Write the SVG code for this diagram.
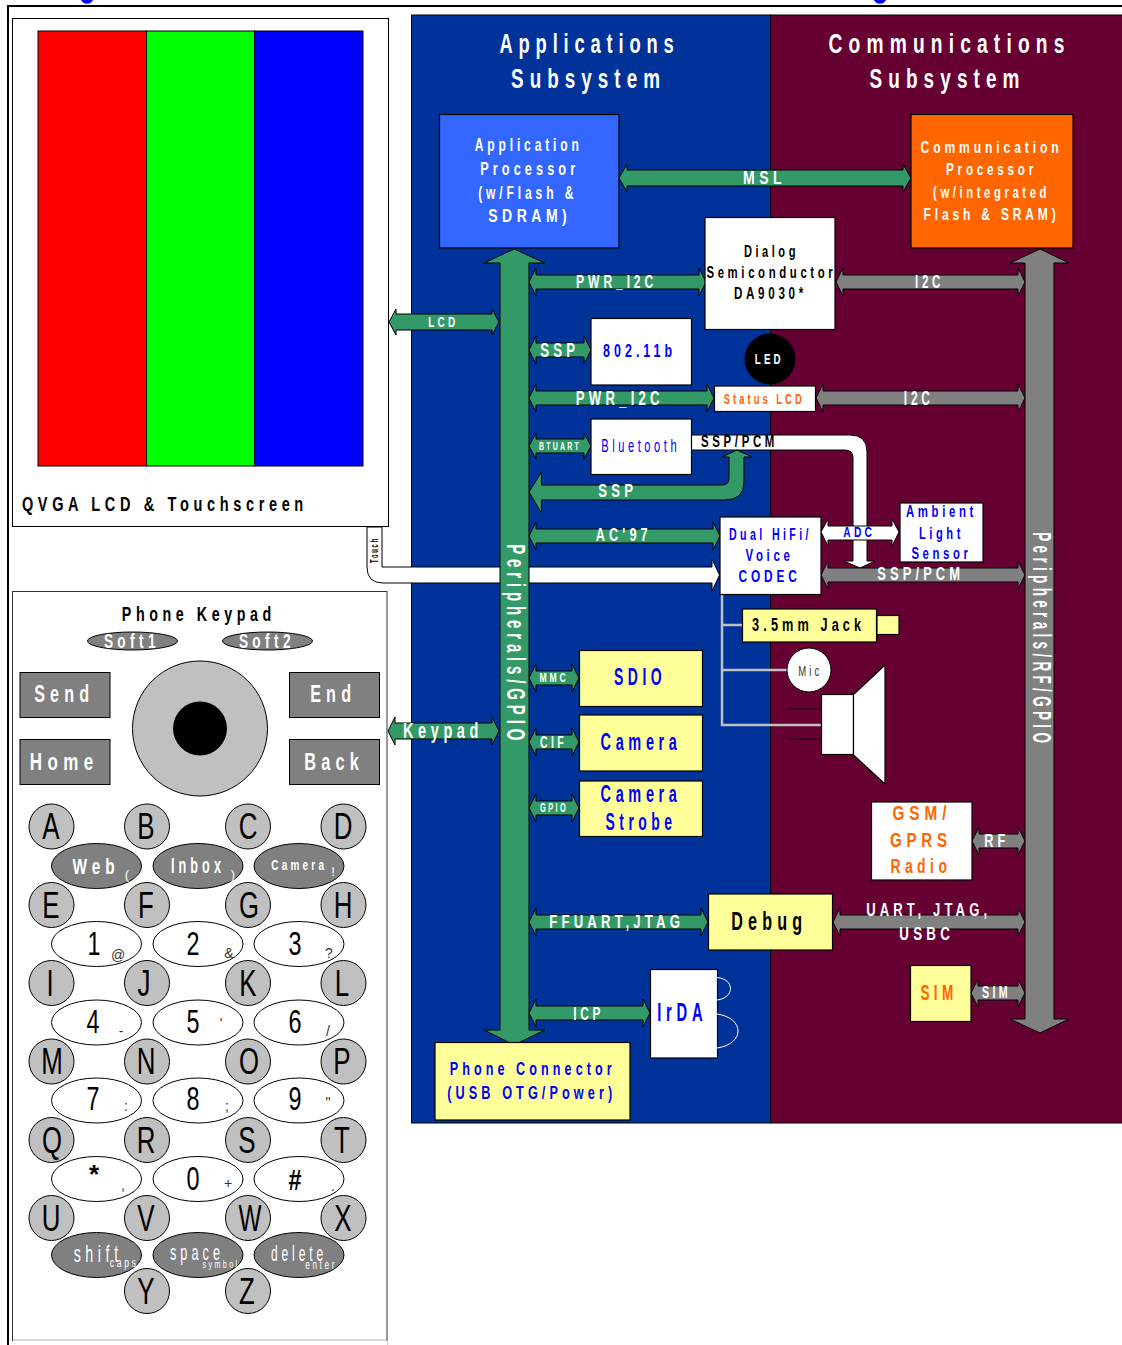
<svg xmlns="http://www.w3.org/2000/svg" width="1122" height="1345" viewBox="0 0 1122 1345">
<style>
text{font-family:"Liberation Sans",Arial,sans-serif;text-anchor:middle;font-weight:bold;letter-spacing:.32em;translate:.09em 0}
g.s0 text,text.s0{letter-spacing:0;translate:none}
text.r{translate:0 .09em}
.n{font-weight:normal}
.w{fill:#fff}.k{fill:#000}.b{fill:#00f}.o{fill:#f60}
.g{fill:#396;stroke:#000;stroke-width:1}
.y{fill:#808080;stroke:#000;stroke-width:1}
.h{fill:#fff;stroke:#000;stroke-width:1}
.box{stroke:#000;stroke-width:1.2;fill:#fff}
.yl{stroke:#000;stroke-width:1.2;fill:#ff9}
.key{fill:#c0c0c0;stroke:#000;stroke-width:1}
.ov{fill:#fff;stroke:#000;stroke-width:1}
.dk{fill:#808080;stroke:#000;stroke-width:1}
.wire{stroke:#c0c0c0;stroke-width:2.5;fill:none}
</style>
<rect width="1122" height="1345" fill="#fff"/>
<g id="frame">
<path d="M81 0a6.500 6 0 0 0 12 0zM874 0a6.500 6 0 0 0 12 0z" fill="#00f"/>
<path d="M1122 6H8V1345" fill="none" stroke="#000" stroke-width="2"/>
</g>
<g id="subsystems">
<rect x="411.500" y="15" width="359" height="1108" fill="#039" stroke="#000"/>
<rect x="770.500" y="15" width="352" height="1108" fill="#603" stroke="#000"/>
<text class="w" x="587" y="53" font-size="28" lengthAdjust="spacingAndGlyphs" textLength="180">Applications</text>
<text class="w" x="586" y="88" font-size="28" lengthAdjust="spacingAndGlyphs" textLength="155">Subsystem</text>
<text class="w" x="947" y="53" font-size="28" lengthAdjust="spacingAndGlyphs" textLength="242">Communications</text>
<text class="w" x="945" y="88" font-size="28" lengthAdjust="spacingAndGlyphs" textLength="156">Subsystem</text>
</g>
<g id="lcd">
<rect x="12.500" y="18.500" width="376" height="508" fill="#fff" stroke="#000"/>
<rect x="38" y="31" width="108.500" height="435" fill="#f00" stroke="#000"/>
<rect x="146.500" y="31" width="108" height="435" fill="#0f0" stroke="#000"/>
<rect x="254.500" y="31" width="108.500" height="435" fill="#00f" stroke="#000"/>
<text class="k" x="163" y="511" font-size="21" lengthAdjust="spacingAndGlyphs" textLength="286">QVGA LCD &amp; Touchscreen</text>
</g>
<g id="connectors">
<path class="h" d="M367 527V567Q367 583 383 583H712V591L719.500 575L712 559V567H382V527Z"/>
<text class="k s0" transform="translate(378,550) rotate(-90)" font-size="10" lengthAdjust="spacingAndGlyphs" textLength="26" style="letter-spacing:.3em">Touch</text>
<path class="h" d="M691 435H850Q867 435 867 452V561H875L860 568L844 561H853V458Q853 450 845 450H691Z"/>
<polygon class="g" points="389,322 396,309 396,314 492,314 492,309 499,322 492,335 492,330 396,330 396,335"/>
<polygon class="g" points="388,731 395,717 395,723 492,723 492,717 499,731 492,745 492,739 395,739 395,745"/>
<polygon class="g" points="500,263 484,263 514,249 545,263 529,263 529,1030 545,1030 514,1045 484,1030 500,1030"/>
<polygon class="y" points="1025,263 1010,263 1040,249 1069,263 1054,263 1054,1019 1069,1019 1040,1033 1010,1019 1025,1019"/>
<polygon class="g" points="619,178 627,164 627,170 903,170 903,164 911,178 903,192 903,186 627,186 627,192"/>
<polygon class="g" points="529,282 536,268 536,275 699,275 699,268 706,282 699,296 699,289 536,289 536,296"/>
<polygon class="g" points="529,350 536,336 536,343 584,343 584,336 591,350 584,364 584,357 536,357 536,364"/>
<polygon class="g" points="529,398 536,384 536,391 707,391 707,384 714,398 707,412 707,405 536,405 536,412"/>
<polygon class="g" points="529,446 536,433 536,439 584,439 584,433 591,446 584,459 584,453 536,453 536,459"/>
<path class="g" d="M529 492L541.500 472V485H722Q729 485 729 478V457H722L737 450L752 457H744V482Q744 500 725 500H541.500V513Z"/>
<polygon class="g" points="529,536 536,522 536,529 713,529 713,522 720,536 713,550 713,543 536,543 536,550"/>
<polygon class="g" points="529,678 536,664 536,671 572,671 572,664 579,678 572,692 572,685 536,685 536,692"/>
<polygon class="g" points="529,742 536,728 536,735 572,735 572,728 579,742 572,756 572,749 536,749 536,756"/>
<polygon class="g" points="529,808 536,794 536,801 572,801 572,794 579,808 572,822 572,815 536,815 536,822"/>
<polygon class="g" points="529,922 536,908 536,915 701,915 701,908 708,922 701,936 701,929 536,929 536,936"/>
<polygon class="g" points="529,1013 536,999 536,1006 643,1006 643,999 650,1013 643,1027 643,1020 536,1020 536,1027"/>
<polygon class="y" points="836,282 843,268 843,275 1018,275 1018,268 1025,282 1018,296 1018,289 843,289 843,296"/>
<polygon class="y" points="816,398 823,384 823,391 1018,391 1018,384 1025,398 1018,412 1018,405 823,405 823,412"/>
<polygon class="y" points="821,575 828,561 828,568 1018,568 1018,561 1025,575 1018,589 1018,582 828,582 828,589"/>
<polygon class="y" points="972,841 979,827 979,834 1018,834 1018,827 1025,841 1018,855 1018,848 979,848 979,855"/>
<polygon class="y" points="833,922 840,908 840,915 1018,915 1018,908 1025,922 1018,936 1018,929 840,929 840,936"/>
<polygon class="y" points="971,993 978,979 978,986 1018,986 1018,979 1025,993 1018,1007 1018,1000 978,1000 978,1007"/>
<polygon class="h" points="821,532 828,519 828,526 892,526 892,519 899,532 892,546 892,540 828,540 828,546"/>
<path class="wire" d="M722 594V725H822M722 625H742M722 670H787"/>
<text class="w" x="763" y="184" font-size="18" lengthAdjust="spacingAndGlyphs" textLength="43">MSL</text>
<text class="w" x="615" y="288" font-size="18" lengthAdjust="spacingAndGlyphs" textLength="81">PWR_I2C</text>
<text class="w" x="928" y="288" font-size="18" lengthAdjust="spacingAndGlyphs" textLength="29">I2C</text>
<text class="w" x="442" y="327" font-size="14" lengthAdjust="spacingAndGlyphs" textLength="30">LCD</text>
<text class="w" x="558" y="357" font-size="20" lengthAdjust="spacingAndGlyphs" textLength="39">SSP</text>
<text class="w" x="618" y="405" font-size="20" lengthAdjust="spacingAndGlyphs" textLength="88">PWR_I2C</text>
<text class="w" x="917" y="405" font-size="20" lengthAdjust="spacingAndGlyphs" textLength="30">I2C</text>
<text class="w" x="559" y="450" font-size="10" lengthAdjust="spacingAndGlyphs" textLength="42">BTUART</text>
<text class="k" x="738" y="447" font-size="17" lengthAdjust="spacingAndGlyphs" textLength="77">SSP/PCM</text>
<text class="w" x="616" y="497" font-size="19" lengthAdjust="spacingAndGlyphs" textLength="39">SSP</text>
<text class="w" x="622" y="541" font-size="19" lengthAdjust="spacingAndGlyphs" textLength="56">AC'97</text>
<text class="b" x="858" y="537" font-size="14" lengthAdjust="spacingAndGlyphs" textLength="32">ADC</text>
<text class="w" x="919" y="580" font-size="19" lengthAdjust="spacingAndGlyphs" textLength="87">SSP/PCM</text>
<text class="w" x="441" y="738" font-size="22" lengthAdjust="spacingAndGlyphs" textLength="80">Keypad</text>
<text class="w" x="553" y="682" font-size="12" lengthAdjust="spacingAndGlyphs" textLength="29">MMC</text>
<text class="w" x="552" y="748" font-size="17" lengthAdjust="spacingAndGlyphs" textLength="27">CIF</text>
<text class="w" x="553" y="812" font-size="12" lengthAdjust="spacingAndGlyphs" textLength="28">GPIO</text>
<text class="w" x="615" y="928" font-size="19" lengthAdjust="spacingAndGlyphs" textLength="135">FFUART,JTAG</text>
<text class="w" x="587" y="1020" font-size="19" lengthAdjust="spacingAndGlyphs" textLength="31">ICP</text>
<text class="w" x="995" y="847" font-size="19" lengthAdjust="spacingAndGlyphs" textLength="25">RF</text>
<text class="w" x="927" y="916" font-size="19" lengthAdjust="spacingAndGlyphs" textLength="125">UART, JTAG,</text>
<text class="w" x="925" y="940" font-size="19" lengthAdjust="spacingAndGlyphs" textLength="55">USBC</text>
<text class="w" x="995" y="998" font-size="16" lengthAdjust="spacingAndGlyphs" textLength="29">SIM</text>
<text class="w r" transform="translate(507,642.500) rotate(90)" font-size="25" lengthAdjust="spacingAndGlyphs" textLength="201">Peripherals/GPIO</text>
<text class="w r" transform="translate(1033,637.500) rotate(90)" font-size="25" lengthAdjust="spacingAndGlyphs" textLength="215">Peripherals/RF/GPIO</text>
</g>
<g id="app-processor"><rect x="439.500" y="114.500" width="179.500" height="133.500" fill="#36f" stroke="#000" stroke-width="1.200"/>
<text class="w" x="527" y="151" font-size="19" lengthAdjust="spacingAndGlyphs" textLength="108">Application</text>
<text class="w" x="528" y="175" font-size="19" lengthAdjust="spacingAndGlyphs" textLength="99">Processor</text>
<text class="w" x="526" y="199" font-size="19" lengthAdjust="spacingAndGlyphs" textLength="99">(w/Flash &amp;</text>
<text class="w" x="528" y="222" font-size="19" lengthAdjust="spacingAndGlyphs" textLength="83">SDRAM)</text></g>
<g id="comm-processor"><rect x="911" y="114.500" width="162" height="133.500" fill="#f60" stroke="#000" stroke-width="1.200"/>
<text class="w" x="990" y="153" font-size="17" lengthAdjust="spacingAndGlyphs" textLength="142">Communication</text>
<text class="w" x="990" y="175" font-size="17" lengthAdjust="spacingAndGlyphs" textLength="91">Processor</text>
<text class="w" x="990" y="198" font-size="17" lengthAdjust="spacingAndGlyphs" textLength="117">(w/integrated</text>
<text class="w" x="990" y="220" font-size="17" lengthAdjust="spacingAndGlyphs" textLength="136">Flash &amp; SRAM)</text></g>
<g id="dialog"><rect class="box" x="705" y="217.500" width="130" height="112"/>
<text class="k" x="770" y="257" font-size="16" lengthAdjust="spacingAndGlyphs" textLength="55">Dialog</text>
<text class="k" x="770" y="278" font-size="16" lengthAdjust="spacingAndGlyphs" textLength="130">Semiconductor</text>
<text class="k" x="769" y="299" font-size="16" lengthAdjust="spacingAndGlyphs" textLength="73">DA9030*</text></g>
<g id="wifi"><rect class="box" x="591" y="318.500" width="100.500" height="66.500"/>
<text class="b" x="638" y="357" font-size="18" lengthAdjust="spacingAndGlyphs" textLength="73">802.11b</text></g>
<g id="led"><circle cx="770" cy="359" r="25.500" fill="#000"/>
<text class="w" x="768" y="364" font-size="14" lengthAdjust="spacingAndGlyphs" textLength="29">LED</text></g>
<g id="status-lcd"><rect class="box" x="714.500" y="386" width="101" height="25.500"/>
<text class="o" x="763" y="404" font-size="14" lengthAdjust="spacingAndGlyphs" textLength="81">Status LCD</text></g>
<g id="bluetooth"><rect class="box" x="591" y="419" width="100.500" height="55.500"/>
<text class="b n" x="639" y="452" font-size="19" lengthAdjust="spacingAndGlyphs" textLength="79">Bluetooth</text></g>
<g id="codec"><rect class="box" x="720" y="517" width="101" height="77.500"/>
<text class="b" x="769" y="540" font-size="16" lengthAdjust="spacingAndGlyphs" textLength="83">Dual HiFi/</text>
<text class="b" x="768" y="561" font-size="16" lengthAdjust="spacingAndGlyphs" textLength="48">Voice</text>
<text class="b" x="768" y="582" font-size="17" lengthAdjust="spacingAndGlyphs" textLength="62">CODEC</text></g>
<g id="ambient"><rect class="box" x="900" y="503" width="83" height="59"/>
<text class="b" x="940" y="517" font-size="16" lengthAdjust="spacingAndGlyphs" textLength="71">Ambient</text>
<text class="b" x="940" y="539" font-size="16" lengthAdjust="spacingAndGlyphs" textLength="45">Light</text>
<text class="b" x="940" y="559" font-size="16" lengthAdjust="spacingAndGlyphs" textLength="60">Sensor</text></g>
<g id="jack"><rect class="yl" x="742.500" y="609" width="134" height="33"/>
<rect class="yl" x="877" y="615.500" width="22" height="19"/>
<text class="k" x="807" y="631" font-size="18" lengthAdjust="spacingAndGlyphs" textLength="113">3.5mm Jack</text></g>
<g id="mic"><circle cx="809" cy="670" r="22" fill="#fff" stroke="#000"/>
<text class="n" fill="#333" x="809" y="676" font-size="15" lengthAdjust="spacingAndGlyphs" textLength="24">Mic</text></g>
<g id="speaker"><path d="M789 709H822M789 739H822" stroke="#000" fill="none"/>
<rect class="box" x="821.500" y="694.500" width="32" height="60"/>
<polygon class="box" points="853.500,694.500 885,665 885,784 853.500,755"/></g>
<g id="sdio"><rect class="yl" x="579.500" y="650.500" width="123" height="56"/>
<text class="b" x="638" y="685" font-size="23" lengthAdjust="spacingAndGlyphs" textLength="52">SDIO</text></g>
<g id="camera"><rect class="yl" x="579.500" y="715" width="123" height="56"/>
<text class="b" x="639" y="750" font-size="23" lengthAdjust="spacingAndGlyphs" textLength="81">Camera</text></g>
<g id="strobe"><rect class="yl" x="579.500" y="781" width="123" height="55.500"/>
<text class="b" x="639" y="802" font-size="23" lengthAdjust="spacingAndGlyphs" textLength="81">Camera</text>
<text class="b" x="639" y="830" font-size="23" lengthAdjust="spacingAndGlyphs" textLength="71">Strobe</text></g>
<g id="debug"><rect class="yl" x="708.500" y="894" width="124" height="56"/>
<text class="k" x="767" y="930" font-size="25" lengthAdjust="spacingAndGlyphs" textLength="76">Debug</text></g>
<g id="irda"><rect class="box" x="650.500" y="969.500" width="67" height="88.500"/>
<path d="M717 977.500C735 979 735 998 717 1000M717 1014C745 1018 745 1044 717 1048" fill="none" stroke="#fff"/>
<text class="b" x="680" y="1021" font-size="25" lengthAdjust="spacingAndGlyphs" textLength="50">IrDA</text></g>
<g id="phone-connector"><rect class="yl" x="435" y="1042.500" width="195" height="77.500"/>
<text class="b" x="531" y="1075" font-size="19" lengthAdjust="spacingAndGlyphs" textLength="166">Phone Connector</text>
<text class="b" x="530" y="1099" font-size="19" lengthAdjust="spacingAndGlyphs" textLength="169">(USB OTG/Power)</text></g>
<g id="gsm"><rect class="box" x="871.500" y="802" width="100.500" height="78"/>
<text class="o" x="920" y="820" font-size="21" lengthAdjust="spacingAndGlyphs" textLength="59">GSM/</text>
<text class="o" x="919" y="847" font-size="21" lengthAdjust="spacingAndGlyphs" textLength="62">GPRS</text>
<text class="o" x="919" y="873" font-size="21" lengthAdjust="spacingAndGlyphs" textLength="61">Radio</text></g>
<g id="sim"><rect class="yl" x="910.500" y="965.500" width="60.500" height="56"/>
<text class="o" x="937" y="1000" font-size="22" lengthAdjust="spacingAndGlyphs" textLength="37">SIM</text></g>
<g id="keypad">
<rect x="12.500" y="591.500" width="374.500" height="760" fill="#fff" stroke="#333"/>
<path d="M13 1340H386" stroke="#ccc" stroke-width="1.500"/>
<rect y="1341" x="9" width="378.500" height="4" fill="#fff"/>
<text class="k" x="197" y="621" font-size="20" lengthAdjust="spacingAndGlyphs" textLength="154">Phone Keypad</text>
<ellipse class="dk" cx="132.500" cy="641" rx="45" ry="9"/><ellipse class="dk" cx="267.500" cy="641" rx="45" ry="9"/>
<text class="w" x="130" y="648" font-size="21" lengthAdjust="spacingAndGlyphs" textLength="56">Soft1</text>
<text class="w" x="265" y="648" font-size="21" lengthAdjust="spacingAndGlyphs" textLength="56">Soft2</text>
<circle class="key" cx="200" cy="728.500" r="67.500"/><circle cx="200" cy="728.500" r="27" fill="#000"/>
<rect class="dk" x="20" y="672.500" width="90" height="45"/><rect class="dk" x="289.500" y="672.500" width="90" height="45"/>
<rect class="dk" x="20" y="739.500" width="90" height="45"/><rect class="dk" x="289.500" y="739.500" width="90" height="45"/>
<text class="w" x="62" y="702" font-size="24" lengthAdjust="spacingAndGlyphs" textLength="60">Send</text>
<text class="w" x="331" y="702" font-size="24" lengthAdjust="spacingAndGlyphs" textLength="46">End</text>
<text class="w" x="62" y="770" font-size="24" lengthAdjust="spacingAndGlyphs" textLength="69">Home</text>
<text class="w" x="332" y="770" font-size="24" lengthAdjust="spacingAndGlyphs" textLength="60">Back</text>
<g class="key">
<circle cx="51.500" cy="826.500" r="22.500"/><circle cx="147" cy="826.500" r="22.500"/><circle cx="248" cy="826.500" r="22.500"/><circle cx="343.500" cy="826.500" r="22.500"/>
<circle cx="51.500" cy="905" r="22.500"/><circle cx="147" cy="905" r="22.500"/><circle cx="248" cy="905" r="22.500"/><circle cx="343.500" cy="905" r="22.500"/>
<circle cx="51.500" cy="983" r="22.500"/><circle cx="147" cy="983" r="22.500"/><circle cx="248" cy="983" r="22.500"/><circle cx="343.500" cy="983" r="22.500"/>
<circle cx="51.500" cy="1061.500" r="22.500"/><circle cx="147" cy="1061.500" r="22.500"/><circle cx="248" cy="1061.500" r="22.500"/><circle cx="343.500" cy="1061.500" r="22.500"/>
<circle cx="51.500" cy="1140" r="22.500"/><circle cx="147" cy="1140" r="22.500"/><circle cx="248" cy="1140" r="22.500"/><circle cx="343.500" cy="1140" r="22.500"/>
<circle cx="51.500" cy="1218" r="22.500"/><circle cx="147" cy="1218" r="22.500"/><circle cx="248" cy="1218" r="22.500"/><circle cx="343.500" cy="1218" r="22.500"/>
<circle cx="147" cy="1291" r="22.500"/><circle cx="248" cy="1291" r="22.500"/>
</g>
<g class="dk"><ellipse cx="96.500" cy="866" rx="45" ry="22.500"/><ellipse cx="198" cy="866" rx="45" ry="22.500"/><ellipse cx="299" cy="866" rx="45" ry="22.500"/>
<ellipse cx="96.500" cy="1255" rx="45" ry="22.500"/><ellipse cx="198" cy="1255" rx="45" ry="22.500"/><ellipse cx="299" cy="1255" rx="45" ry="22.500"/></g>
<g class="ov"><ellipse cx="96.500" cy="944" rx="45" ry="22.500"/><ellipse cx="198" cy="944" rx="45" ry="22.500"/><ellipse cx="299" cy="944" rx="45" ry="22.500"/>
<ellipse cx="96.500" cy="1022.500" rx="45" ry="22.500"/><ellipse cx="198" cy="1022.500" rx="45" ry="22.500"/><ellipse cx="299" cy="1022.500" rx="45" ry="22.500"/>
<ellipse cx="96.500" cy="1100.500" rx="45" ry="22.500"/><ellipse cx="198" cy="1100.500" rx="45" ry="22.500"/><ellipse cx="299" cy="1100.500" rx="45" ry="22.500"/>
<ellipse cx="96.500" cy="1179" rx="45" ry="22.500"/><ellipse cx="198" cy="1179" rx="45" ry="22.500"/><ellipse cx="299" cy="1179" rx="45" ry="22.500"/></g>
<g class="k s0" font-size="36">
<text class="n" x="51" y="839" lengthAdjust="spacingAndGlyphs" textLength="17.300">A</text><text class="n" x="146" y="839" lengthAdjust="spacingAndGlyphs" textLength="17.300">B</text><text class="n" x="248" y="839" lengthAdjust="spacingAndGlyphs" textLength="18.700">C</text><text class="n" x="343" y="839" lengthAdjust="spacingAndGlyphs" textLength="18.700">D</text>
<text class="n" x="51" y="918" lengthAdjust="spacingAndGlyphs" textLength="17.300">E</text><text class="n" x="146" y="918" lengthAdjust="spacingAndGlyphs" textLength="15.800">F</text><text class="n" x="249" y="918" lengthAdjust="spacingAndGlyphs" textLength="20">G</text><text class="n" x="343" y="918" lengthAdjust="spacingAndGlyphs" textLength="18.700">H</text>
<text class="n" x="50" y="996" lengthAdjust="spacingAndGlyphs" textLength="7.200">I</text><text class="n" x="144" y="996" lengthAdjust="spacingAndGlyphs" textLength="13">J</text><text class="n" x="248" y="996" lengthAdjust="spacingAndGlyphs" textLength="17.300">K</text><text class="n" x="342" y="996" lengthAdjust="spacingAndGlyphs" textLength="14.400">L</text>
<text class="n" x="52" y="1074" lengthAdjust="spacingAndGlyphs" textLength="21.600">M</text><text class="n" x="146" y="1074" lengthAdjust="spacingAndGlyphs" textLength="18.700">N</text><text class="n" x="249" y="1074" lengthAdjust="spacingAndGlyphs" textLength="20">O</text><text class="n" x="342" y="1074" lengthAdjust="spacingAndGlyphs" textLength="17.300">P</text>
<text class="n" x="52" y="1153" lengthAdjust="spacingAndGlyphs" textLength="20">Q</text><text class="n" x="146" y="1153" lengthAdjust="spacingAndGlyphs" textLength="18.700">R</text><text class="n" x="247" y="1153" lengthAdjust="spacingAndGlyphs" textLength="17.300">S</text><text class="n" x="342" y="1153" lengthAdjust="spacingAndGlyphs" textLength="15.800">T</text>
<text class="n" x="51" y="1231" lengthAdjust="spacingAndGlyphs" textLength="18.700">U</text><text class="n" x="146" y="1231" lengthAdjust="spacingAndGlyphs" textLength="17.300">V</text><text class="n" x="250" y="1231" lengthAdjust="spacingAndGlyphs" textLength="23">W</text><text class="n" x="343" y="1231" lengthAdjust="spacingAndGlyphs" textLength="17.300">X</text>
<text class="n" x="146" y="1304" lengthAdjust="spacingAndGlyphs" textLength="17.300">Y</text><text class="n" x="247" y="1304" lengthAdjust="spacingAndGlyphs" textLength="15.800">Z</text>
<text class="n" x="94" y="955" font-size="34" lengthAdjust="spacingAndGlyphs" textLength="13">1</text><text class="n" x="193" y="955" font-size="34" lengthAdjust="spacingAndGlyphs" textLength="13">2</text><text class="n" x="295" y="955" font-size="34" lengthAdjust="spacingAndGlyphs" textLength="13">3</text>
<text class="n" x="93" y="1033" font-size="34" lengthAdjust="spacingAndGlyphs" textLength="13">4</text><text class="n" x="193" y="1033" font-size="34" lengthAdjust="spacingAndGlyphs" textLength="13">5</text><text class="n" x="295" y="1033" font-size="34" lengthAdjust="spacingAndGlyphs" textLength="13">6</text>
<text class="n" x="93" y="1110" font-size="34" lengthAdjust="spacingAndGlyphs" textLength="13">7</text><text class="n" x="193" y="1110" font-size="34" lengthAdjust="spacingAndGlyphs" textLength="13">8</text><text class="n" x="295" y="1110" font-size="34" lengthAdjust="spacingAndGlyphs" textLength="13">9</text>
<text x="94" y="1183" font-size="26">*</text><text class="n" x="193" y="1190" font-size="34" lengthAdjust="spacingAndGlyphs" textLength="13">0</text><text x="295" y="1190" font-size="30" lengthAdjust="spacingAndGlyphs" textLength="13">#</text>
</g>
<g class="s0" fill="#333" font-size="14">
<text class="n" x="118" y="960">@</text><text class="n" x="229" y="958">&amp;</text><text class="n" x="329" y="958">?</text>
<text class="n" x="121" y="1036">-</text><text class="n" x="221" y="1028">'</text><text class="n" x="328" y="1036">/</text>
<text class="n" x="126" y="1111">:</text><text class="n" x="227" y="1111">;</text><text class="n" x="328" y="1107">"</text>
<text class="n" x="123" y="1190">,</text><text class="n" x="228" y="1188">+</text><text class="n" x="333" y="1191">.</text>
</g>
<text class="w" x="94" y="874" font-size="22" lengthAdjust="spacingAndGlyphs" textLength="47">Web</text>
<text class="w" x="196" y="873" font-size="22" lengthAdjust="spacingAndGlyphs" textLength="54">Inbox</text>
<text class="w" x="298" y="870" font-size="14" lengthAdjust="spacingAndGlyphs" textLength="56">Camera</text>
<text class="w n s0" x="127" y="879" font-size="13">(</text>
<text class="w n s0" x="233" y="879" font-size="13">)</text>
<text class="w n s0" x="333" y="876" font-size="13">!</text>
<text class="w n" x="96" y="1262" font-size="24" lengthAdjust="spacingAndGlyphs" textLength="49">shift</text>
<text class="w n" x="123" y="1267" font-size="13" lengthAdjust="spacingAndGlyphs" textLength="29">caps</text>
<text class="w n" x="195" y="1260" font-size="22" lengthAdjust="spacingAndGlyphs" textLength="54">space</text>
<text class="w n" x="220" y="1268" font-size="11" lengthAdjust="spacingAndGlyphs" textLength="37">symbol</text>
<text class="w n" x="297" y="1261" font-size="22" lengthAdjust="spacingAndGlyphs" textLength="56">delete</text>
<text class="w n" x="320" y="1269" font-size="13" lengthAdjust="spacingAndGlyphs" textLength="32">enter</text>
</g>
</svg>
